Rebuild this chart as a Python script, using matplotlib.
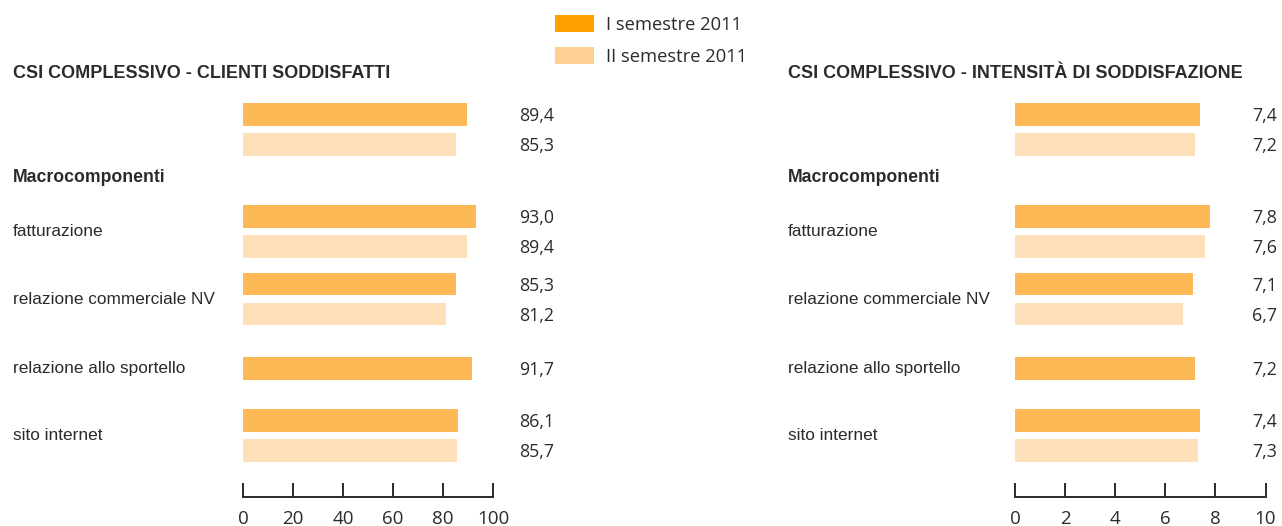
import matplotlib
matplotlib.use("Agg")
import matplotlib.pyplot as plt
from matplotlib.patches import Patch

# ---------------- data ----------------
groups = ["", "fatturazione", "relazione commerciale NV",
          "relazione allo sportello", "sito internet"]
series_names = ["I semestre 2011", "II semestre 2011"]
csi_sem1 = [89.4, 93.0, 85.3, 91.7, 86.1]
csi_sem2 = [85.3, 89.4, 81.2, None, 85.7]
int_sem1 = [7.4, 7.8, 7.1, 7.2, 7.4]
int_sem2 = [7.2, 7.6, 6.7, None, 7.3]
csi_ticks = [0, 20, 40, 60, 80, 100]
int_ticks = [0, 2, 4, 6, 8, 10]
titles = ["CSI COMPLESSIVO - CLIENTI SODDISFATTI",
          "CSI COMPLESSIVO - INTENSITÀ DI SODDISFAZIONE"]
section_label = "Macrocomponenti"

# ---------------- layout / style ----------------
W, H = 1282, 526
GROUP_TOP = [114.5, 216.3, 284.2, 368.3, 420.3]   # first-row centre (px from top)
ROW_PITCH = 30.0
BAR_H = 22.5
AXIS_Y = 496.5
SECTION_Y = 178
TITLE_Y = 73
VAL_DY = 1.5
C1_BAR, C2_BAR = "#FDB955", "#FDE0B9"
C1_LEG, C2_LEG = "#FF9F00", "#FED193"
TXT = "#2b2b2b"
LABF = ["Liberation Sans", "DejaVu Sans"]
NUMF = ["Open Sans", "DejaVu Sans"]

fig = plt.figure(figsize=(W / 100, H / 100), dpi=100)
fig.patch.set_facecolor("white")


def fx(px):
    return px / W


def fy(py):
    return 1 - py / H


def fmt(v):
    return f"{v:.1f}".replace(".", ",")


def panel(x0, x1, text_x, val_x, s1, s2, ticks, title):
    ax = fig.add_axes([fx(x0), fy(AXIS_Y), fx(x1 - x0), AXIS_Y / H])
    ax.set_xlim(ticks[0], ticks[-1])
    ax.set_ylim(AXIS_Y, 0)
    for sp in ["top", "left", "right"]:
        ax.spines[sp].set_visible(False)
    ax.spines["bottom"].set_linewidth(1.4)
    ax.spines["bottom"].set_color(TXT)
    ax.set_yticks([])
    ax.set_xticks(ticks)
    ax.set_xticklabels([str(t) for t in ticks], family=NUMF, fontsize=13.5, color=TXT)
    ax.tick_params(axis="x", direction="in", length=10, width=1.4, color=TXT, pad=9.5)
    ax.patch.set_alpha(0)

    for g, name in enumerate(groups):
        y1 = GROUP_TOP[g]
        ys = [y1]
        ax.barh(y1, s1[g], height=BAR_H, color=C1_BAR, left=0)
        fig.text(fx(val_x), fy(y1 + VAL_DY), fmt(s1[g]),
                 ha="right", va="center", family=NUMF, fontsize=12.8, color=TXT)
        if s2[g] is not None:
            y2 = y1 + ROW_PITCH
            ys.append(y2)
            ax.barh(y2, s2[g], height=BAR_H, color=C2_BAR, left=0)
            fig.text(fx(val_x), fy(y2 + VAL_DY), fmt(s2[g]),
                     ha="right", va="center", family=NUMF, fontsize=12.8, color=TXT)
        if name:
            fig.text(fx(text_x), fy(sum(ys) / len(ys)), name, ha="left", va="center",
                     family=LABF, fontsize=12.4, color=TXT)

    fig.text(fx(text_x), fy(TITLE_Y), title, ha="left", va="center",
             family=LABF, fontsize=13, fontweight="bold", color=TXT)
    fig.text(fx(text_x), fy(SECTION_Y), section_label, ha="left", va="center",
             family=LABF, fontsize=12.7, fontweight="bold", color=TXT)
    return ax


panel(243, 493, 13, 554, csi_sem1, csi_sem2, csi_ticks, titles[0])
panel(1015, 1265.5, 788, 1277, int_sem1, int_sem2, int_ticks, titles[1])

handles = [Patch(facecolor=C1_LEG, edgecolor="none"),
           Patch(facecolor=C2_LEG, edgecolor="none")]
leg = fig.legend(handles, series_names, loc="upper left",
                 bbox_to_anchor=(fx(555), fy(15)), frameon=False, borderpad=0,
                 borderaxespad=0, handlelength=2.15, handleheight=1.05,
                 handletextpad=0.65, labelspacing=0.72,
                 prop={"family": NUMF, "size": 13.2})
for t in leg.get_texts():
    t.set_color(TXT)

fig.savefig("out.png", dpi=100, facecolor="white")
